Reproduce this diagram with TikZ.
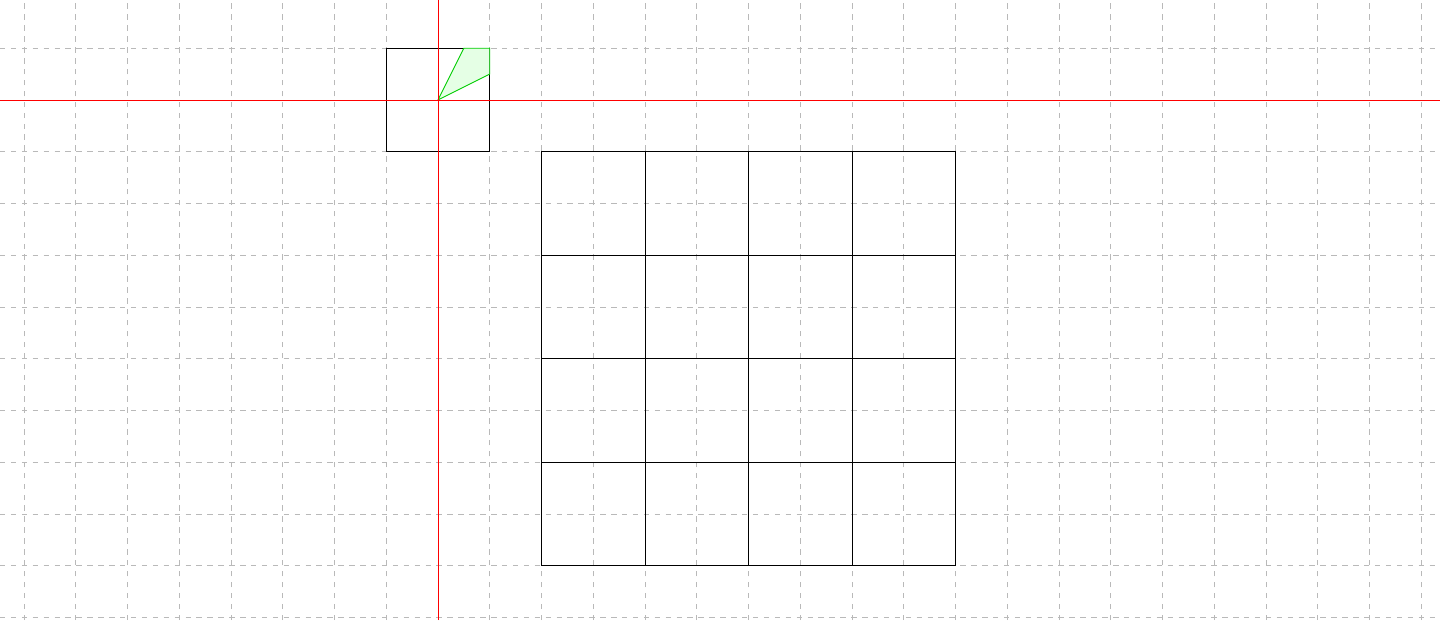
\documentclass[tikz,border=0pt]{standalone}
\begin{document}
\begin{tikzpicture}[x=1cm,y=1cm,
  gridline/.style={gray!55,dashed,line width=0.4pt},
  axisline/.style={red,line width=0.5pt},
  boxline/.style={black,line width=0.5pt},
  wedge/.style={draw=green!80!black,fill=green!10,line width=0.5pt}]
\useasboundingbox (-8.464,-10.05) rectangle (19.364,1.932);
\foreach \i in {-8,...,19} \draw[gridline] (\i,-10.05) -- (\i,1.932);
\foreach \j in {-10,...,1} \draw[gridline] (-8.464,\j) -- (19.364,\j);
\draw[boxline] (-1,-1) rectangle (1,1);
\draw[boxline] (2,-9) rectangle (10,-1);
\foreach \x in {4,6,8} \draw[boxline] (\x,-9) -- (\x,-1);
\foreach \y in {-3,-5,-7} \draw[boxline] (2,\y) -- (10,\y);
\coordinate (O) at (0,0);
\coordinate (A) at (0.5,1);
\coordinate (B) at (1,1);
\coordinate (C) at (1,0.5);
\draw[wedge] (O) -- (A) -- (B) -- (C) -- cycle;
\draw[axisline] (-8.464,0) -- (19.364,0);
\draw[axisline] (0,-10.05) -- (0,1.932);
\end{tikzpicture}
\end{document}
